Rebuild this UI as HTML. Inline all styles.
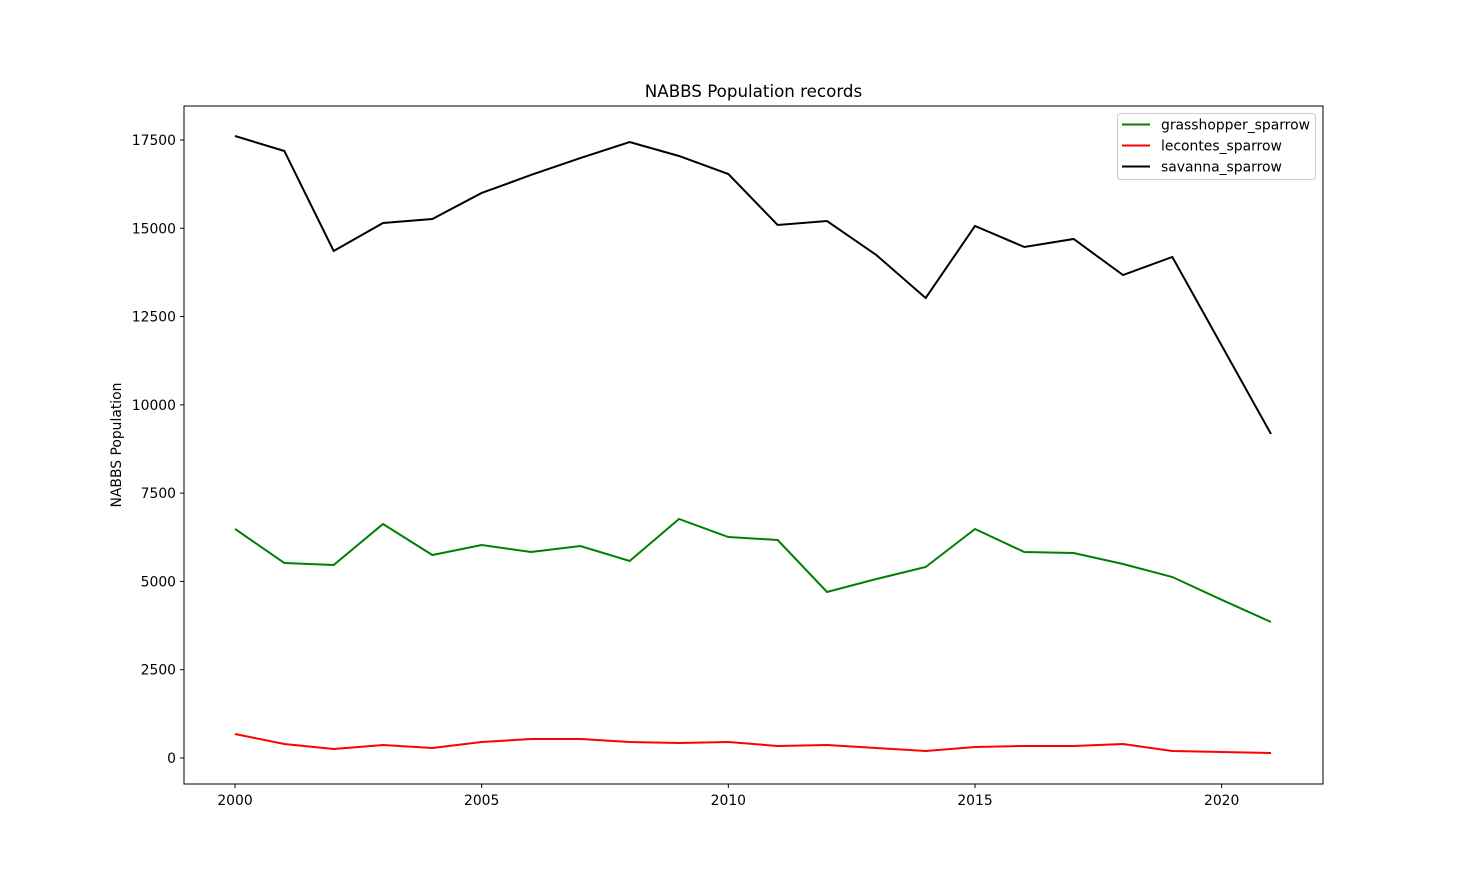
<!DOCTYPE html>
<html><head><meta charset="utf-8"><style>
body{margin:0;background:#fff;font-family:"Liberation Sans","DejaVu Sans",sans-serif;}
svg text{font-family:"DejaVu Sans","Liberation Sans",sans-serif;}
</style></head><body>
<svg id="chart" width="1470" height="881" xmlns="http://www.w3.org/2000/svg"></svg>
<script>
const years = [2000,2001,2002,2003,2004,2005,2006,2007,2008,2009,2010,2011,2012,2013,2014,2015,2016,2017,2018,2019,2020,2021];
const grasshopper = [6485,5522,5465,6626,5748,6032,5833,6003,5578,6768,6258,6173,4701,5069,5409,6485,5833,5805,5494,5125,4480,3851];
const lecontes = [680,396,255,368,283,453,538,538,453,425,453,340,368,283,198,311,340,340,396,198,170,142];
const savanna = [17613,17189,14357,15150,15263,16000,16509,16990,17443,17047,16537,15093,15206,14244,13026,15065,14470,14697,13677,14187,11680,9175];
const yTicks = [0,2500,5000,7500,10000,12500,15000,17500];
const xTicks = [2000,2005,2010,2015,2020];
const seriesNames = ['grasshopper_sparrow','lecontes_sparrow','savanna_sparrow'];

const svg = document.getElementById('chart');
const NS = 'http://www.w3.org/2000/svg';
const L=184,R=1323,T=106,B=784;
const x = v => 235 + (v-2000)*(1271-235)/21;
const y = v => 758 - v*618/17500;
function mk(tag, attrs, parent){const e=document.createElementNS(NS,tag);for(const k in attrs)e.setAttribute(k,attrs[k]);(parent||svg).appendChild(e);return e;}

const title = mk('text',{x:(L+R)/2,y:97,'text-anchor':'middle','font-size':16.7});
title.textContent='NABBS Population records';



const yl = mk('text',{x:121,y:445,'text-anchor':'middle','font-size':13.9,transform:'rotate(-90 121 445)'});
yl.textContent='NABBS Population';



yTicks.forEach(t=>{
  const g=mk('g',{});
  
  
  mk('line',{x1:L-4,x2:L,y1:y(t),y2:y(t),stroke:'#000'},g);
  const tx=mk('text',{x:L-8,y:y(t)+5,'text-anchor':'end','font-size':13.9},g);tx.textContent=t;
});
xTicks.forEach(t=>{
  const g=mk('g',{});
  
  
  mk('line',{x1:x(t),x2:x(t),y1:B,y2:B+4,stroke:'#000'},g);
  const tx=mk('text',{x:x(t),y:B+21,'text-anchor':'middle','font-size':13.9},g);tx.textContent=t;
});

const colors=['green','red','black'];
[grasshopper,lecontes,savanna].forEach((s,i)=>{
  const p=mk('polyline',{points:s.map((v,j)=>x(years[j])+','+y(v)).join(' '),fill:'none',stroke:colors[i],'stroke-width':2});
  
  
});

const frame=mk('rect',{x:L,y:T,width:R-L,height:B-T,fill:'none',stroke:'#000','stroke-width':1});



const lg=mk('g',{});


mk('rect',{x:1117.5,y:113.5,width:198,height:66,rx:3,fill:'#fff',stroke:'#ccc'},lg);
seriesNames.forEach((n,i)=>{
  const e=mk('g',{},lg);
  
  
  const yy=124.5+i*21;
  mk('line',{x1:1122,x2:1150,y1:yy,y2:yy,stroke:colors[i],'stroke-width':2},e);
  const t=mk('text',{x:1161,y:yy+5,'font-size':13.9},e);t.textContent=n;
});
</script>
</body></html>
